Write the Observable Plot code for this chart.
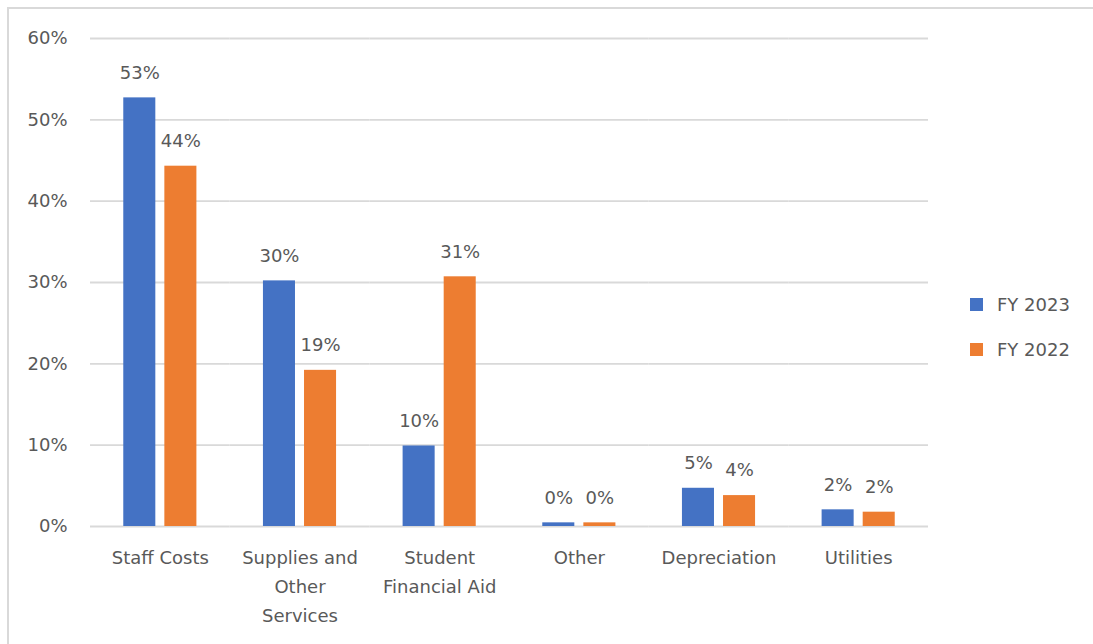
<!DOCTYPE html>
<html>
<head>
<meta charset="utf-8">
<script src="https://cdn.jsdelivr.net/npm/d3@7"></script>
<script src="https://cdn.jsdelivr.net/npm/@observablehq/plot@0.6"></script>
<style>
  html, body { margin: 0; padding: 0; background: #fff; overflow: hidden; }
  body { width: 1093px; height: 644px; position: relative; font-family: "DejaVu Sans", sans-serif; }
  #frame { position: absolute; left: 7px; top: 7px; width: 1200px; height: 800px; border: 2px solid #d9d9d9; box-sizing: border-box; }
  #chart { position: absolute; left: 0; top: 0; }
  #legend { position: absolute; left: 970px; top: 282px; color: #595959; font-size: 18px; }
  .item { display: flex; align-items: center; height: 45px; }
  .sw { width: 13px; height: 13px; margin-right: 14px; }
</style>
</head>
<body>
<div id="frame"></div>
<div id="chart"></div>
<div id="legend"></div>
<script>
const categories = ["Staff Costs", "Supplies and Other Services", "Student Financial Aid", "Other", "Depreciation", "Utilities"];
const tickLabels = ["Staff Costs", "Supplies and\nOther\nServices", "Student\nFinancial Aid", "Other", "Depreciation", "Utilities"];
const seriesNames = ["FY 2023", "FY 2022"];
const fy2023 = [0.527, 0.302, 0.099, 0.0045, 0.047, 0.0205];
const fy2022 = [0.443, 0.192, 0.307, 0.0045, 0.038, 0.0176];
const colors = ["#4472C4", "#ED7D31"];
const yTicks = [0, 0.1, 0.2, 0.3, 0.4, 0.5, 0.6];

const data = [];
categories.forEach((c, i) => {
  data.push({category: c, series: seriesNames[0], value: fy2023[i]});
  data.push({category: c, series: seriesNames[1], value: fy2022[i]});
});
const labelOf = new Map(categories.map((c, i) => [c, tickLabels[i]]));
const pct = d3.format(".0%");

const chart = Plot.plot({
  width: 940,
  height: 644,
  marginLeft: 90,
  marginRight: 12,
  marginTop: 38,
  marginBottom: 118,
  style: {color: "#595959", fontFamily: "'DejaVu Sans', sans-serif", fontSize: "18px", background: "transparent"},
  fx: {domain: categories, paddingInner: 0, paddingOuter: 0, round: false, label: null},
  x: {domain: seriesNames, paddingInner: 0.22, paddingOuter: 0.81, round: false, axis: null},
  y: {domain: [0, 0.6], label: null},
  color: {domain: seriesNames, range: colors},
  marks: [
    Plot.ruleY(yTicks, {stroke: "#d9d9d9", strokeWidth: 1.8}),
    Plot.barY(data, {fx: "category", x: "series", y: "value", fill: "series"}),
    Plot.text(data, {fx: "category", x: "series", y: "value", text: d => pct(d.value), dy: -25, fontSize: 18, fill: "#595959"}),
    Plot.axisY({ticks: yTicks, tickFormat: pct, tickSize: 0, tickPadding: 23, fontSize: 18, label: null}),
    Plot.axisFx({anchor: "bottom", tickSize: 0, tickPadding: 17, fontSize: 18, lineHeight: 1.6, tickFormat: c => labelOf.get(c), label: null})
  ]
});
document.getElementById("chart").appendChild(chart);

const legend = document.getElementById("legend");
seriesNames.forEach((s, i) => {
  const row = document.createElement("div");
  row.className = "item";
  const sw = document.createElement("div");
  sw.className = "sw";
  sw.style.background = colors[i];
  const t = document.createElement("span");
  t.textContent = s;
  row.appendChild(sw);
  row.appendChild(t);
  legend.appendChild(row);
});
</script>
</body>
</html>
